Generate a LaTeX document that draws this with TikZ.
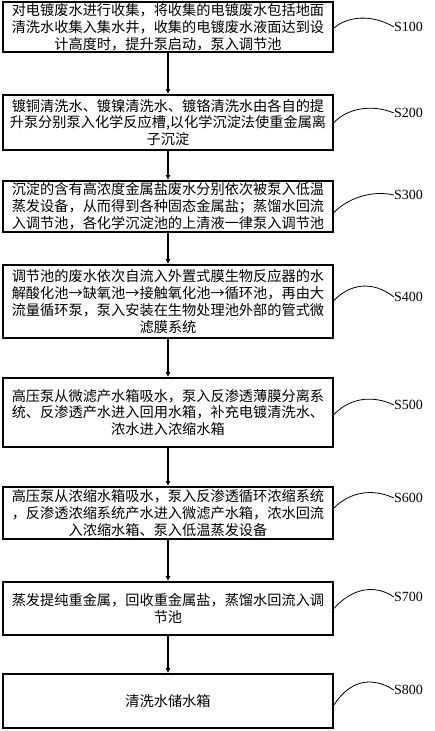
\documentclass[tikz,border=0pt]{standalone}
\usepackage{fontspec}
\setmainfont{Liberation Serif}
\newfontfamily\cjk{Noto Sans CJK SC}
\usetikzlibrary{arrows.meta}
\begin{document}
\begin{tikzpicture}[x=1pt,y=-1pt,
  stepbox/.style={draw=black,line width=1.8pt,minimum width=330pt,inner sep=0pt,align=center,
    font=\cjk\fontsize{14.2pt}{16.8pt}\selectfont},
  flow/.style={line width=1.8pt,-{Latex[length=5pt,width=5pt]}},
  tag/.style={anchor=west,inner sep=0pt,font=\fontsize{14pt}{16pt}\selectfont},
  lead/.style={line width=0.8pt}]
\useasboundingbox (0,0) rectangle (434,731);
\node[stepbox,minimum height=50pt] (b1) at (168,27) {对电镀废水进行收集，将收集的电镀废水包括地面\\清洗水收集入集水井，收集的电镀废水液面达到设\\计高度时，提升泵启动，泵入调节池};
\node[stepbox,minimum height=55pt] (b2) at (168,122.5) {镀铜清洗水、镀镍清洗水、镀铬清洗水由各自的提\\升泵分别泵入化学反应槽,以化学沉淀法使重金属离\\子沉淀};
\node[stepbox,minimum height=51pt] (b3) at (168,206.5) {沉淀的含有高浓度金属盐废水分别依次被泵入低温\\蒸发设备，从而得到各种固态金属盐；蒸馏水回流\\入调节池，各化学沉淀池的上清液一律泵入调节池};
\node[stepbox,minimum height=73pt] (b4) at (168,301.5) {调节池的废水依次自流入外置式膜生物反应器的水\\解酸化池→缺氧池→接触氧化池→循环池，再由大\\流量循环泵，泵入安装在生物处理池外部的管式微\\滤膜系统};
\node[stepbox,minimum height=69pt] (b5) at (168,412.5) {高压泵从微滤产水箱吸水，泵入反渗透薄膜分离系\\统、反渗透产水进入回用水箱，补充电镀清洗水、\\浓水进入浓缩水箱};
\node[stepbox,minimum height=52pt] (b6) at (168,513) {高压泵从浓缩水箱吸水，泵入反渗透循环浓缩系统\\，反渗透浓缩系统产水进入微滤产水箱，浓水回流\\入浓缩水箱、泵入低温蒸发设备};
\node[stepbox,minimum height=53pt] (b7) at (168,608.5) {蒸发提纯重金属，回收重金属盐，蒸馏水回流入调\\节池};
\node[stepbox,minimum height=54pt] (b8) at (168,701) {清洗水储水箱};
\foreach \a/\b in {b1/b2,b2/b3,b3/b4,b4/b5,b5/b6,b6/b7,b7/b8}
  \draw[flow] (\a) -- (\b);
\node[tag] (l1) at (394,27) {S100};
\node[tag] (l2) at (394,113) {S200};
\node[tag] (l3) at (394,195) {S300};
\node[tag] (l4) at (394,297) {S400};
\node[tag] (l5) at (394,405) {S500};
\node[tag] (l6) at (394,498) {S600};
\node[tag] (l7) at (394,597) {S700};
\node[tag] (l8) at (394,690) {S800};
\draw[lead] ([yshift=-1pt]b1.east) .. controls (348,16) and (372,14) .. (l1.west);
\draw[lead] ([yshift=0pt]b2.east) .. controls (348,108) and (372,104) .. (l2.west);
\draw[lead] ([yshift=-6pt]b3.east) .. controls (348,198) and (372,190) .. (l3.west);
\draw[lead] ([yshift=1pt]b4.east) .. controls (350,284) and (372,280) .. (l4.west);
\draw[lead] ([yshift=-2pt]b5.east) .. controls (352,396) and (375,396) .. (l5.west);
\draw[lead] ([yshift=5pt]b6.east) .. controls (350,492) and (372,488) .. (l6.west);
\draw[lead] ([yshift=0pt]b7.east) .. controls (352,588) and (375,584) .. (l7.west);
\draw[lead] ([yshift=-4pt]b8.east) .. controls (350,680) and (372,676) .. (l8.west);
\end{tikzpicture}
\end{document}
